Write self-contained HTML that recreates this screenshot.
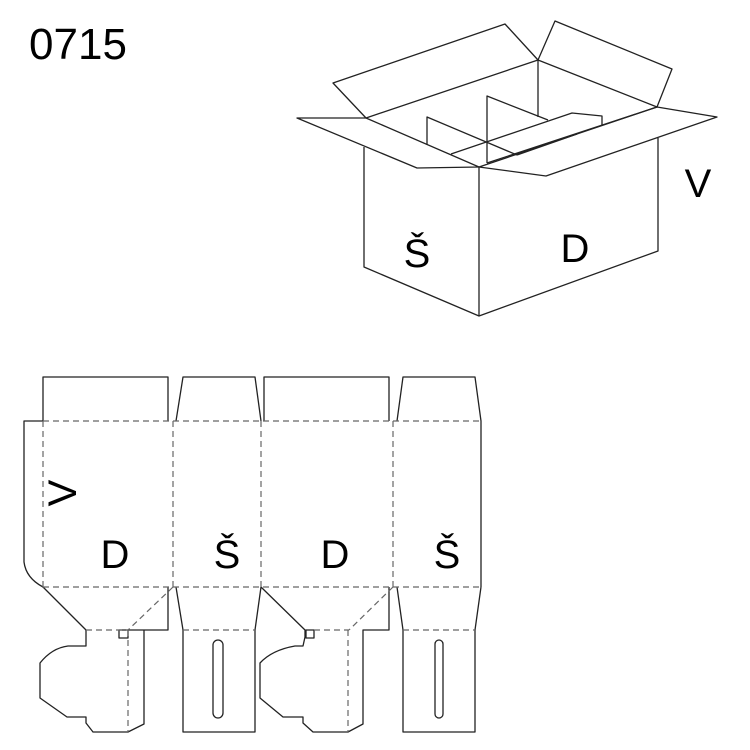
<!DOCTYPE html>
<html><head><style>html,body{margin:0;padding:0;background:#fff}svg{display:block}</style></head>
<body>
<svg width="750" height="750" viewBox="0 0 750 750" xmlns="http://www.w3.org/2000/svg">
<g fill="none" stroke="#222" stroke-width="1.3" stroke-linejoin="round">
<!-- box -->
<polyline points="364,147 364,267 479,316 658,251 658,138"/>
<line x1="479" y1="167" x2="479" y2="316"/>
<polygon points="297,118 366,118 479,167 417,168"/>
<polygon points="366,118 333,83 505,24 538,60"/>
<polygon points="538,60 555,21 672,69 657,107"/>
<polygon points="657,107 717,117 546,176 479,167"/>
<line x1="538" y1="60" x2="538" y2="117"/>
<line x1="487" y1="163" x2="657" y2="107"/>
<polyline points="487,163 487,96 548,120"/>
<polyline points="427,145 427,117 517,155"/>
<polyline points="451,154 572,113 602,116 602,125"/>
<line x1="517" y1="155" x2="577" y2="134"/>
<!-- net solid -->
<polyline points="43,421 43,377 168,377 168,421"/>
<polyline points="176,421 183,377 255,377 261,421"/>
<polyline points="264,421 264,377 389,377 389,421"/>
<polyline points="397,421 403,377 475,377 481,421 481,587"/>
<path d="M43,421 H24 V562 Q26,578 43,587 L86,630"/>
<polyline points="168,587 168,630 128,630"/>
<rect x="119" y="630" width="9" height="8"/>
<path d="M144,630 L144,724 128,732 93,732 86,723 86,717 67,717 40,698 40,663 Q52,648 68,646 L86,646 86,630"/>
<polyline points="176,587 183,630 183,732 255,732 255,630 261,587"/>
<rect x="213" y="640" width="10" height="78" rx="5"/>
<path d="M261,587 L305,630 305,637 303,646 295,646 Q272,650 260,663 L260,698 283,717 303,717 303,723 313,732 348,732 363,724 363,630 389,630 389,587"/>
<rect x="306" y="630" width="8" height="8"/>
<polyline points="397,587 403,630 403,732 475,732 475,630 481,587"/>
<rect x="435" y="640" width="8" height="78" rx="4"/>
</g>
<g fill="none" stroke="#666" stroke-width="1.2" stroke-dasharray="6,4">
<line x1="43" y1="421" x2="481" y2="421"/>
<line x1="43" y1="587" x2="481" y2="587"/>
<line x1="43" y1="421" x2="43" y2="587"/>
<line x1="173" y1="421" x2="173" y2="587"/>
<line x1="261" y1="421" x2="261" y2="587"/>
<line x1="393" y1="421" x2="393" y2="587"/>
<line x1="86" y1="630" x2="128" y2="630"/>
<line x1="173" y1="587" x2="128" y2="630"/>
<line x1="128" y1="630" x2="128" y2="732"/>
<line x1="183" y1="630" x2="255" y2="630"/>
<line x1="314" y1="630" x2="349" y2="630"/>
<line x1="393" y1="587" x2="349" y2="630"/>
<line x1="348" y1="630" x2="348" y2="732"/>
<line x1="403" y1="630" x2="475" y2="630"/>
</g>
<g font-family="Liberation Sans, sans-serif" font-size="40" fill="#000" text-anchor="middle">
<text x="78" y="59" font-size="44">0715</text>
<text x="417" y="267">Š</text>
<text x="575" y="262">D</text>
<text x="698" y="197">V</text>
<text x="115" y="568">D</text>
<text x="227" y="568">Š</text>
<text x="335" y="568">D</text>
<text x="447" y="568">Š</text>
<text x="0" y="0" transform="translate(76,493) rotate(-90)">V</text>
</g>
</svg>
</body></html>
